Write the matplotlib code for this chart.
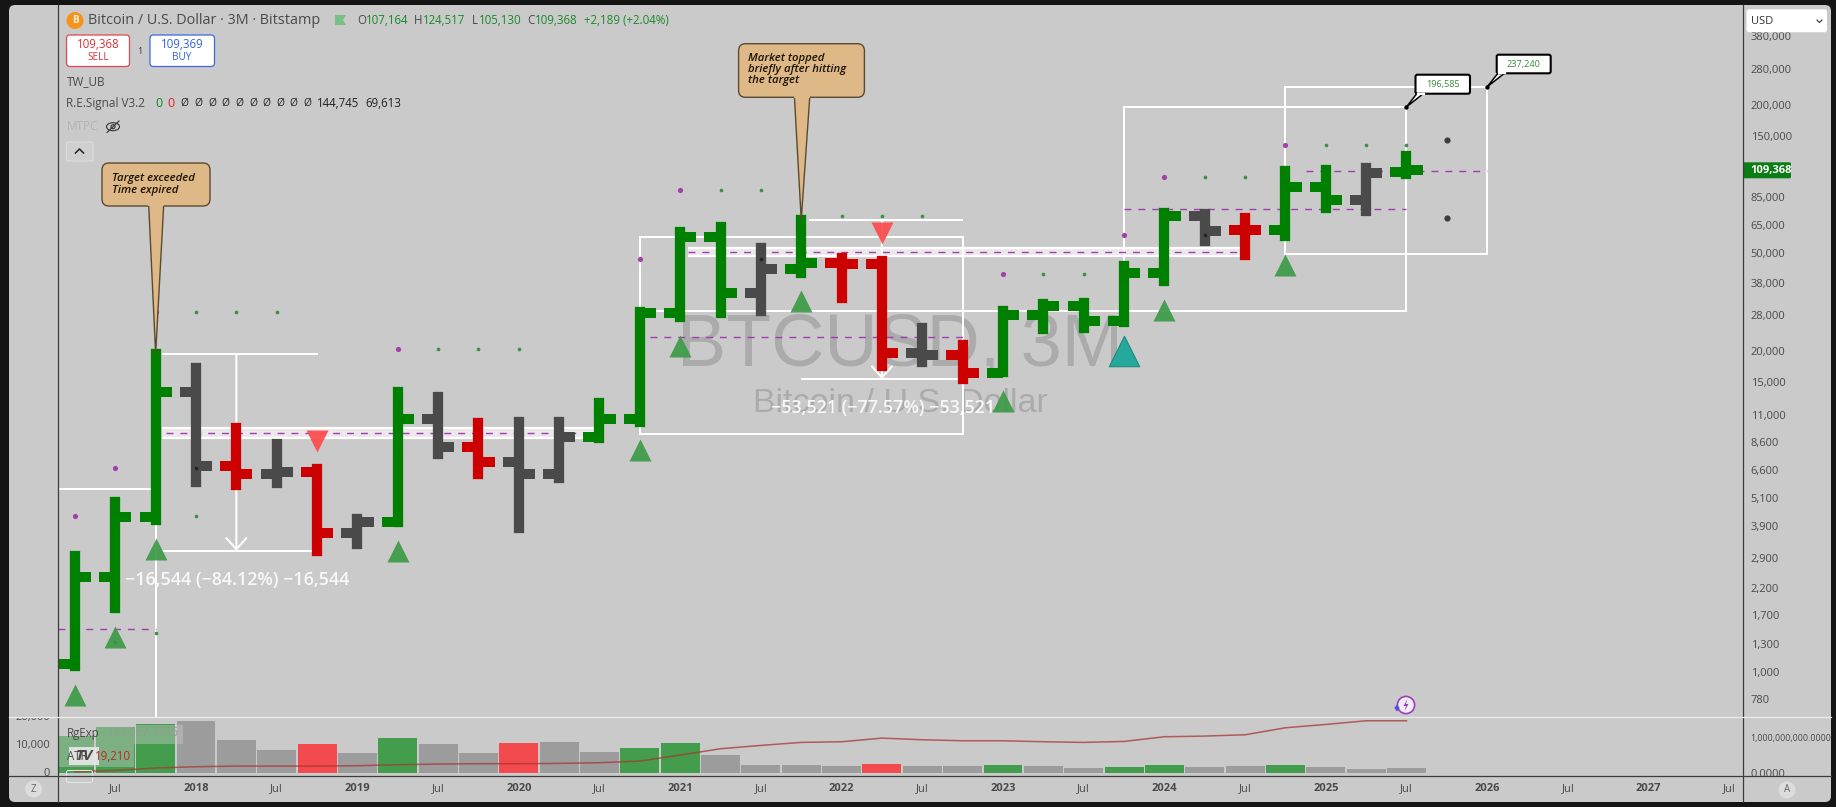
import matplotlib
matplotlib.use("Agg")
import matplotlib.pyplot as plt
from matplotlib.patches import FancyBboxPatch, Rectangle, Polygon, Circle, Ellipse

plt.rcParams['font.family'] = ['Open Sans', 'DejaVu Sans']

# ---------- data ----------
quarter = list(range(-3, 31))  # 0 = Q1 2018, one step = 3 months
opens = [1075, 2430, 4269, 13730, 6876, 6344, 6501, 3655, 4051, 10640, 8190, 7099, 6344, 9017, 10640, 28730, 58440,
         34640, 43220, 45600, 45280, 19650, 19350, 16310, 28110, 30660, 26660, 41760, 70940, 62300, 62400, 92760,
         82110, 107164]
highs = [2965, 4912, 19530, 17090, 9806, 8399, 6667, 4166, 13730, 13030, 10280, 10340, 10340, 12390, 28840, 61250,
         64200, 52460, 68300, 47740, 46700, 24830, 21240, 29190, 31250, 31540, 44560, 73190, 72240, 69410, 108000,
         108700, 110800, 124517]
lows = [1061, 1824, 4128, 5920, 5741, 5848, 3107, 3308, 4051, 7670, 6360, 3852, 6129, 8907, 10370, 27680, 28650,
        29190, 41760, 32860, 17510, 18170, 15460, 16460, 24600, 24830, 26410, 38640, 56170, 49250, 58850, 76640,
        74520, 105130]
closes = [2430, 4269, 13730, 6876, 6344, 6501, 3655, 4051, 10640, 8190, 7099, 6344, 9017, 10640, 28730, 58440, 34640,
          43220, 45600, 45280, 19650, 19350, 16310, 28110, 30660, 26660, 41760, 70940, 61800, 62000, 92760, 82110,
          105700, 109368]
bar_kind = ['g', 'g', 'g', 'n', 'r', 'n', 'r', 'n', 'g', 'n', 'r', 'n', 'n', 'g', 'g', 'g', 'g', 'n', 'g', 'r', 'r',
            'n', 'r', 'g', 'g', 'g', 'g', 'g', 'n', 'r', 'g', 'g', 'n', 'g']

atr = [13470, 16600, 17690, 18880, 12020, 8300, 10580, 7440, 12630, 10580, 7440, 10940, 11300, 7800, 9130, 10940,
       6500, 3100, 3100, 2740, 3470, 2740, 2740, 3100, 2740, 2020, 2380, 3100, 2380, 2740, 3100, 2380, 1660, 2020]
atr_kind = ['g', 'g', 'g', 'n', 'n', 'n', 'r', 'n', 'g', 'n', 'n', 'r', 'n', 'n', 'g', 'g', 'n', 'n', 'n', 'n', 'r',
            'n', 'n', 'g', 'n', 'n', 'g', 'g', 'n', 'n', 'g', 'n', 'n', 'n']
rgexp_m = [29, 67, 133, 171, 190, 190, 190, 200, 229, 248, 257, 257, 267, 286, 333, 505, 686, 781, 867, 886, 990, 943,
           914, 914, 886, 867, 895, 1029, 1048, 1086, 1286, 1381, 1486, 1486]

price_ticks = [380000, 280000, 200000, 150000, 85000, 65000, 50000, 38000, 28000, 20000, 15000, 11000, 8600, 6600,
               5100, 3900, 2900, 2200, 1700, 1300, 1000, 780]
time_ticks = list(range(-2, 39, 2))
time_labels = ['Jul', '2018', 'Jul', '2019', 'Jul', '2020', 'Jul', '2021', 'Jul', '2022', 'Jul', '2023', 'Jul',
               '2024', 'Jul', '2025', 'Jul', '2026', 'Jul', '2027', 'Jul']

tri_up_q = [-3, -2, -1, 5, 11, 12, 15, 20, 24, 27]
tri_up_p = [807, 1387, 3157, 3098, 7964, 21050, 32040, 12590, 29460, 44660]
tri_teal_q = [23]
tri_teal_p = [20090]
tri_dn_q = [3, 17]
tri_dn_p = [8637, 60340]

purple_q = [-3, -2, -1, 5, 11, 12, 20, 23, 24, 27]
purple_p = [4310, 6747, 28910, 20410, 47330, 90450, 41130, 59390, 102100, 137700]
green_q = [0, 1, 2, 0, -1, -2, 6, 7, 8, 13, 14, 16, 17, 18, 21, 22, 25, 26, 28, 29, 30]
green_p = [28910, 28910, 28910, 4310, 1440, 1327, 20410, 20410, 20410, 90450, 90450, 70740, 70740, 70740, 41130,
           41130, 102100, 102100, 137700, 137700, 137700]
dark_q = [31, 31, 0, 14, 25]
dark_p = [144745, 69613, 6747, 47330, 59390]

# trade boxes: left, right, top, bottom
boxes = [(11, 19, 58150, 9217), (23, 30, 196585, 29190), (27, 32, 237240, 49590)]
# white horizontals: left, right, price
white_h = [(-0.84, 3.02, 19530), (-0.86, 3.0, 3107), (-3.42, -1.1, 5530), (15.2, 19, 68300), (15, 19, 15460),
           (11.1, 23, 29190)]
# bands: left, right, top, bottom
bands = [(-0.84, 9.9, 9806, 8866), (12.2, 25.9, 52360, 48810)]
# purple dashed: left, right, price
dashes = [(-3.42, -1, 1490), (-0.75, 9.7, 9310), (12.2, 25.9, 50660), (11.25, 19, 22960), (23, 30, 75720),
          (27.5, 32, 107700)]
# measure arrows: quarter, from, to, text quarter, text price, text
measures = [(1, 19530, 3107, 1.03, 2363, '\u221216,544 (\u221284.12%) \u221216,544'),
            (17, 68300, 15460, 17.03, 11790, '\u221253,521 (\u221277.57%) \u221253,521')]
target_labels = [(30, 196585, '196,585'), (32, 237240, '237,240')]

# ---------- style ----------
BG = '#cacaca'
GREEN, RED, GREY = '#008000', '#cc0000', '#4a4a4a'
kind_col = {'g': GREEN, 'r': RED, 'n': GREY}
atr_col = {'g': '#449c4d', 'r': '#f24a4d', 'n': '#9c9c9c'}
TXT = '#4a4a4a'
W, H = 1836, 807


def pos(x0, y0, x1, y1):
    return [x0 / W, 1 - y1 / H, (x1 - x0) / W, (y1 - y0) / H]


fig = plt.figure(figsize=(W / 100, H / 100), dpi=100, facecolor='#141414')

# full-figure chrome layer beneath
under = fig.add_axes([0, 0, 1, 1], zorder=0)
under.set_xlim(0, W)
under.set_ylim(H, 0)
under.axis('off')
under.add_patch(FancyBboxPatch((9, 5), W - 14, H - 10, boxstyle='round,pad=0,rounding_size=6', fc=BG, ec='none'))

# ---------- main price pane ----------
XL = (-3.42, 38.34)
ax = fig.add_axes(pos(58, 5, 1743, 717), zorder=2)
ax.patch.set_alpha(0)
ax.set_yscale('log')
ax.set_ylim(656.6, 509600)
ax.set_xlim(*XL)
for s in ax.spines.values():
    s.set_visible(False)
ax.xaxis.set_visible(False)
ax.yaxis.tick_right()
ax.set_yticks(price_ticks)
ax.set_yticklabels([f'{v:,}' for v in price_ticks], fontsize=8, color=TXT)
ax.minorticks_off()
ax.tick_params(axis='y', length=0, pad=5.5)

# watermark
wm_x = 17.45
ax.text(wm_x, 17620, 'BTCUSD, 3M', fontsize=53, family='Liberation Sans', color='#ababab', ha='center',
        va='baseline', zorder=1)
ax.text(wm_x, 11360, 'Bitcoin / U.S. Dollar', fontsize=24.5, family='Liberation Sans', color='#ababab',
        ha='center', va='baseline', zorder=1)

LW = 2.0 * 0.72
for l, r, t, b in bands:
    ax.fill_between([l, r], [b, b], [t, t], color='#ebe7eb', lw=0, zorder=2)
    ax.hlines([t, b], l, r, color='white', lw=LW * 1.1, zorder=2.2)
for l, r, t, b in boxes:
    ax.plot([l, r, r, l, l], [t, t, b, b, t], color='white', lw=LW, zorder=2.2, solid_joinstyle='miter')
for l, r, p in white_h:
    ax.hlines(p, l, r, color='white', lw=LW, zorder=2.2)
ax.vlines(-1, ax.get_ylim()[0], 4128, color='white', lw=LW, zorder=2.2)
for l, r, p in dashes:
    ax.hlines(p, l, r, color='#a23fb0', lw=1.0, linestyles=(0, (5, 5)), zorder=2.6)
for q, p0, p1, tq, tp, s in measures:
    ax.annotate('', xy=(q, p1), xytext=(q, p0), zorder=2.3,
                arrowprops=dict(arrowstyle='->,head_length=0.8,head_width=0.72', color='white', lw=LW,
                                shrinkA=0, shrinkB=0))
    ax.text(tq, tp, s, color='#f8f8f8', fontsize=12.9, fontweight='semibold', ha='center', va='center', zorder=8)

# OHLC bars
for kind in 'gnr':
    c = kind_col[kind]
    idx = [i for i, k in enumerate(bar_kind) if k == kind]
    xs = [quarter[i] for i in idx]
    ax.vlines(xs, [lows[i] for i in idx], [highs[i] for i in idx], color=c, lw=7.4, capstyle='projecting', zorder=4)
    ax.hlines([opens[i] for i in idx], [x - 0.4 for x in xs], xs, color=c, lw=7.2, zorder=4)
    ax.hlines([closes[i] for i in idx], xs, [x + 0.4 for x in xs], color=c, lw=7.2, zorder=4)

ax.scatter(tri_up_q, tri_up_p, marker='^', s=251, color='#3c9a46', alpha=0.92, lw=0, zorder=5)
ax.scatter(tri_teal_q, tri_teal_p, marker='^', s=480, color='#24a99c', edgecolor='#1f8a80', lw=0.8, zorder=5)
ax.scatter(tri_dn_q, tri_dn_p, marker='v', s=251, color='#fb5050', alpha=0.95, lw=0, zorder=5)
ax.scatter(purple_q, purple_p, s=14, color='#a23fa8', lw=0, zorder=6)
ax.scatter(green_q, green_p, s=7, color='#3f8f47', lw=0, zorder=6)
ax.scatter(dark_q[:2], dark_p[:2], s=20, color='#3d3d3d', lw=0, zorder=6)
ax.scatter(dark_q[2:], dark_p[2:], s=7, color='#222222', lw=0, zorder=6)

for q, p, s in target_labels:
    ax.scatter([q], [p], s=10, color='black', lw=0, zorder=7)

# ---------- lower pane ----------
vx = fig.add_axes(pos(58, 717, 1743, 776), zorder=1)
vx.patch.set_alpha(0)
vx.set_xlim(*XL)
vx.set_ylim(-975, 20325)
vx.bar(quarter, atr, width=0.965, color=[atr_col[k] for k in atr_kind], lw=0, zorder=2)
for s in vx.spines.values():
    s.set_visible(False)
vx.set_yticks([])
vx.set_xticks(time_ticks)
vx.set_xticklabels(time_labels, fontsize=8, color=TXT)
for t, lab in zip(vx.get_xticklabels(), time_labels):
    if lab != 'Jul':
        t.set_fontweight('bold')
vx.tick_params(axis='x', length=0, pad=5)

rx = vx.twinx()
rx.patch.set_alpha(0)
rx.set_ylim(-0.094e9, 1.594e9)
rx.plot(quarter, [v * 1e6 for v in rgexp_m], color='#a83535', alpha=0.75, lw=1.1, zorder=3)
for s in rx.spines.values():
    s.set_visible(False)
rx.set_yticks([0, 1e9])
rx.set_yticklabels(['0.0000', '1,000,000,000.0000'], fontsize=8, color=TXT)
rx.get_yticklabels()[1].set_fontsize(6.4)
rx.tick_params(axis='y', length=0, pad=5.5)

# left scale of the lower pane, clipped at its top
lx = fig.add_axes(pos(9, 717, 58, 776), zorder=1)
lx.axis('off')
lx.set_xlim(9, 58)
lx.set_ylim(-975, 20325)
for v in [0, 10000, 20000]:
    lx.text(50, v, f'{v:,}', ha='right', va='center', fontsize=8, color=TXT, clip_on=True)

# ---------- chrome overlay ----------
ov = fig.add_axes([0, 0, 1, 1], zorder=10)
ov.patch.set_alpha(0)
ov.set_xlim(0, W)
ov.set_ylim(H, 0)
ov.axis('off')


def T(x, y, s, c=TXT, fs=8, **kw):
    kw.setdefault('ha', 'left')
    kw.setdefault('va', 'center')
    return ov.text(x, y, s, color=c, fontsize=fs, **kw)


# frame lines
ov.plot([58, 58], [5, 802], color='#3c3c3c', lw=0.9)
ov.plot([1743, 1743], [5, 802], color='#3c3c3c', lw=0.9)
ov.plot([9, 1831], [776, 776], color='#3c3c3c', lw=0.9)
ov.plot([9, 1831], [717, 717], color='#ececec', lw=0.9)

# header
ov.add_patch(Circle((75, 20.5), 8.5, fc='#f7931a', ec='none'))
T(75, 20.5, 'B', '#fff3df', 7, ha='center', fontweight='bold')
T(88, 20.5, 'Bitcoin / U.S. Dollar \u00b7 3M \u00b7 Bitstamp', TXT, 10.4)
ov.add_patch(Polygon([(335, 15), (346, 15), (343, 20), (346, 25), (335, 25)], fc='#78c083', ec='none'))
for x, lab, xv, val in [(357, 'O', 366, '107,164'), (414, 'H', 423, '124,517'), (472, 'L', 479, '105,130'),
                        (527, 'C', 535, '109,368')]:
    T(x, 20, lab, TXT, 8.3)
    T(xv, 20, val, '#1a8a2a', 8.3)
T(584, 20, '+2,189 (+2.04%)', '#1a8a2a', 8.3)

# sell / buy
ov.add_patch(FancyBboxPatch((66.5, 35), 63, 31.5, boxstyle='round,pad=0,rounding_size=3.5', fc='white',
                            ec='#e2474d', lw=0.9))
T(98, 45, '109,368', '#d8323a', 8.3, ha='center')
T(98, 57.5, 'SELL', '#d8323a', 7.2, ha='center')
T(140, 51, '1', '#333333', 6.5, ha='center')
ov.add_patch(FancyBboxPatch((150, 35), 64.5, 31.5, boxstyle='round,pad=0,rounding_size=3.5', fc='white',
                            ec='#3d6ae0', lw=0.9))
T(182, 45, '109,369', '#2f62e0', 8.3, ha='center')
T(182, 57.5, 'BUY', '#2f62e0', 7.2, ha='center')

# legend
T(66.5, 81.7, 'TW_UB', TXT, 8.5)
T(66.5, 103.7, 'R.E.Signal V3.2', TXT, 8.5)
T(159, 103.7, '0', '#108a20', 9, ha='center')
T(171, 103.7, '0', '#e02020', 9, ha='center')
for x in [184, 198, 212, 225, 239, 253, 266, 280, 293, 307]:
    T(x, 103.7, '\u00d8', '#222222', 7.5, ha='center')
T(317, 103.7, '144,745', '#222222', 8.3)
T(365, 103.7, '69,613', '#222222', 8.3)
T(66.5, 126.7, 'MTPC', '#b3b3b3', 8.5)
ov.add_patch(Ellipse((113, 126.7), 13, 8, fc='none', ec='#333333', lw=0.8))
ov.add_patch(Circle((113, 126.7), 2, fc='none', ec='#333333', lw=0.8))
ov.plot([107, 119], [132.5, 121], color='#333333', lw=0.8)
ov.add_patch(FancyBboxPatch((66.5, 142), 26.5, 19, boxstyle='round,pad=0,rounding_size=2', fc='#cfcfcf',
                            ec='#dddddd', lw=0.8))
ov.plot([75.5, 79.5, 83.5], [153, 149, 153], color='#222222', lw=1.1)

# callouts
TIP = '#deb887'
TE = '#5c4a2f'


def callout(x0, y0, x1, y1, tx0, tx1, tipq, tipp, lines, lx_, ys):
    tip = ov.transData.inverted().transform(ax.transData.transform((tipq, tipp)))
    ov.add_patch(FancyBboxPatch((x0, y0), x1 - x0, y1 - y0, boxstyle='round,pad=0,rounding_size=7', fc=TIP, ec=TE,
                                lw=1.0, zorder=3))
    ov.add_patch(Polygon([(tx0, y1 - 1), tip, (tx1, y1 - 1)], closed=False, fc=TIP, ec=TE, lw=1.0, zorder=3.1))
    ov.plot([tx0 + 0.7, tx1 - 0.7], [y1 - 0.8, y1 - 0.8], color=TIP, lw=1.4, zorder=3.2)
    for s, y in zip(lines, ys):
        T(lx_, y, s, '#1d1505', 8.2, fontweight='semibold', fontstyle='italic', zorder=4)


callout(102, 163, 210, 206, 148.7, 163.7, -1, 19530, ['Target exceeded', 'Time expired'], 112, [178, 190])
callout(738.6, 43.7, 864.4, 97.3, 794.4, 809.8, 15, 68300, ['Market topped', 'briefly after hitting', 'the target'],
        748.5, [58.3, 69.7, 81])

# target labels
for (q, p, s), (bx, by, bw, bh) in zip(target_labels, [(1415.5, 74.7, 54.5, 19), (1496.7, 54.7, 54, 18.6)]):
    tip = ov.transData.inverted().transform(ax.transData.transform((q, p)))
    ov.add_patch(Polygon([(bx + 9, by + bh - 1), tuple(tip), (bx + 2, by + bh - 1)], fc='white', ec='black', lw=1.1,
                         zorder=3))
    ov.add_patch(FancyBboxPatch((bx, by), bw, bh, boxstyle='round,pad=0,rounding_size=2', fc='white', ec='black',
                                lw=1.5, zorder=3.1))
    ov.plot([bx + 2.5, bx + 8.5], [by + bh, by + bh], color='white', lw=1.6, zorder=3.2)
    T(bx + bw / 2, by + bh / 2, s, '#3a8a3a', 6.6, ha='center', zorder=4)

# price tag and currency selector
ov.add_patch(FancyBboxPatch((1743, 162.3), 48, 16, boxstyle='round,pad=0,rounding_size=1.5', fc='#0a7d14', ec='none'))
T(1750.5, 170.3, '109,368', 'white', 8, fontweight='bold')
ov.add_patch(FancyBboxPatch((1746.5, 9.3), 80.5, 23, boxstyle='round,pad=0,rounding_size=2.5', fc='white', ec='none'))
T(1750.5, 21, 'USD', '#333333', 8)
ov.plot([1817, 1819.5, 1822], [20, 22.5, 20], color='#333333', lw=0.8)

# lightning badge
ov.add_patch(Circle((1406, 705), 8.6, fc='#f1eef5', ec='#9c3fc0', lw=1.2))
ov.add_patch(Polygon([(1407.5, 699), (1403.5, 706), (1406, 706), (1404.5, 711), (1408.5, 704), (1406, 704)],
                     fc='#9c3fc0', ec='none'))
ov.add_patch(Polygon([(1397, 704.5), (1399.7, 708), (1397, 711.5), (1394.3, 708)], fc='#5a4be0', ec='none'))

# lower pane legend
ov.add_patch(Rectangle((58, 725), 125, 19, fc=BG, ec='none', alpha=0.42))
ov.add_patch(Rectangle((58, 744), 76, 23, fc=BG, ec='none', alpha=0.42))
T(67, 733, 'RgExp', TXT, 8.3)
T(107, 733, '131,057.3585', '#8f9f8f', 8.3)
T(67, 756, 'ATR', TXT, 8.3)
T(95, 756, '19,210', '#c0282c', 8.3)
ov.add_patch(Rectangle((69, 747), 30, 18, fc='#e8e8e8', ec='none', alpha=0.9))
T(84, 756, 'TV', '#4a4a4a', 11, ha='center', fontweight='bold', fontstyle='italic')
ov.add_patch(FancyBboxPatch((66.5, 770.5), 26, 12, boxstyle='round,pad=0,rounding_size=2', fc='none', ec='#e4e4e4',
                            lw=0.8, clip_box=vx.bbox))

# scale buttons
ov.add_patch(Circle((33.6, 789), 8.5, fc='#dcdcdc', ec='none'))
T(33.6, 789, 'Z', '#666666', 7, ha='center')
ov.add_patch(Circle((1787, 790), 8.5, fc='#dcdcdc', ec='none'))
T(1787, 790, 'A', '#666666', 7, ha='center')

fig.savefig('out.png', dpi=100, facecolor=fig.get_facecolor())
